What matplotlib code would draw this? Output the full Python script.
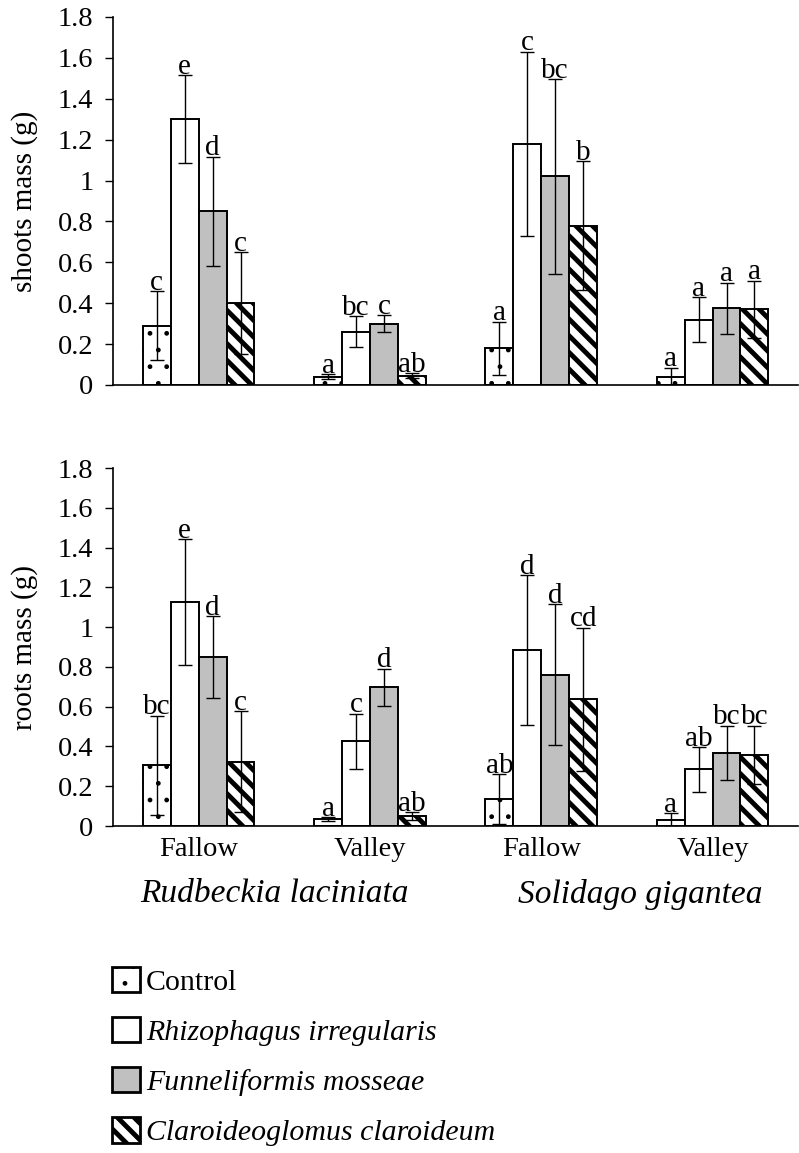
import numpy as np
import matplotlib as mpl
import matplotlib.pyplot as plt

plt.rcParams['font.family'] = ['Liberation Serif', 'DejaVu Serif']
plt.rcParams['hatch.color'] = 'black'

# sites and species
sites = ['Fallow', 'Valley', 'Fallow', 'Valley']
species = ['Rudbeckia laciniata', 'Solidago gigantea']
treatments = ['Control', 'Rhizophagus irregularis', 'Funneliformis mosseae',
              'Claroideoglomus claroideum']

# shoots mass (g): one list per treatment, order = sites above
shoots_control = [0.29, 0.04, 0.18, 0.04]
shoots_ri = [1.30, 0.26, 1.18, 0.32]
shoots_fm = [0.85, 0.30, 1.02, 0.375]
shoots_cc = [0.40, 0.045, 0.78, 0.37]
shoots_err_control = [0.17, 0.012, 0.13, 0.045]
shoots_err_ri = [0.215, 0.076, 0.45, 0.11]
shoots_err_fm = [0.267, 0.041, 0.477, 0.125]
shoots_err_cc = [0.25, 0.012, 0.316, 0.14]
shoots_letters = [['c', 'a', 'a', 'a'], ['e', 'bc', 'c', 'a'],
                  ['d', 'c', 'bc', 'a'], ['c', 'ab', 'b', 'a']]

# roots mass (g)
roots_control = [0.305, 0.035, 0.136, 0.03]
roots_ri = [1.125, 0.426, 0.884, 0.285]
roots_fm = [0.85, 0.697, 0.76, 0.368]
roots_cc = [0.323, 0.05, 0.638, 0.357]
roots_err_control = [0.25, 0.01, 0.124, 0.034]
roots_err_ri = [0.317, 0.139, 0.377, 0.112]
roots_err_fm = [0.205, 0.093, 0.354, 0.137]
roots_err_cc = [0.255, 0.02, 0.36, 0.147]
roots_letters = [['bc', 'a', 'ab', 'a'], ['e', 'c', 'd', 'ab'],
                 ['d', 'd', 'd', 'bc'], ['c', 'ab', 'cd', 'bc']]

styles = [
    dict(facecolor='white', hatch='.', hlw=1.0),
    dict(facecolor='white', hatch='', hlw=1.0),
    dict(facecolor='#c0c0c0', hatch='', hlw=1.0),
    dict(facecolor='white', hatch='\\\\', hlw=3.5),
]


def set_hlw(patch, lw):
    if hasattr(patch, 'set_hatch_linewidth'):
        patch.set_hatch_linewidth(lw)
    else:
        patch._hatch_linewidth = lw


fig = plt.figure(figsize=(7.99, 11.53), dpi=100)
ax1 = fig.add_axes([0.1414, 0.6661, 0.8576, 0.3192])
ax2 = fig.add_axes([0.1414, 0.2836, 0.8576, 0.3105])

x = np.arange(len(sites))
w = 0.163


def draw(ax, vals, errs, letters, ylabel):
    handles = []
    for i in range(4):
        st = styles[i]
        pos = x + (i - 1.5) * w
        bars = ax.bar(pos, vals[i], w, color=st['facecolor'], edgecolor='black',
                      linewidth=1.4, hatch=st['hatch'], zorder=2)
        for b in bars:
            set_hlw(b, st['hlw'])
        ax.errorbar(pos, vals[i], yerr=errs[i], fmt='none', ecolor='black',
                    elinewidth=1.0, capsize=4.8, capthick=1.0, zorder=3)
        for p, v, e, t in zip(pos, vals[i], errs[i], letters[i]):
            ax.annotate(t, (p, v + e), xytext=(0, 1), textcoords='offset points',
                        ha='center', va='baseline', fontsize=21)
        handles.append(bars)
    ax.set_xlim(-0.5, 3.5)
    ax.set_ylim(0, 1.8)
    ax.set_yticks(np.arange(0, 1.81, 0.2))
    ax.set_yticklabels(['0', '0.2', '0.4', '0.6', '0.8', '1', '1.2', '1.4', '1.6', '1.8'])
    ax.tick_params(axis='y', labelsize=20.5, length=6, width=1.0, direction='out', pad=8)
    ax.tick_params(axis='x', length=0)
    ax.spines['top'].set_visible(False)
    ax.spines['right'].set_visible(False)
    ax.spines['left'].set_linewidth(1.2)
    ax.spines['bottom'].set_linewidth(1.2)
    ax.set_ylabel(ylabel, fontsize=21, labelpad=14)
    return handles


handles = draw(ax1, [shoots_control, shoots_ri, shoots_fm, shoots_cc],
               [shoots_err_control, shoots_err_ri, shoots_err_fm, shoots_err_cc],
               shoots_letters, 'shoots mass (g)')
draw(ax2, [roots_control, roots_ri, roots_fm, roots_cc],
     [roots_err_control, roots_err_ri, roots_err_fm, roots_err_cc],
     roots_letters, 'roots mass (g)')

ax1.set_xticks([])
ax2.set_xticks(x)
ax2.set_xticklabels(sites, fontsize=20.5)
ax2.tick_params(axis='x', pad=8)

ax2.text(0.44, -0.19, species[0], transform=ax2.get_xaxis_transform(),
         ha='center', va='center', fontsize=24, style='italic')
ax2.text(2.58, -0.19, species[1], transform=ax2.get_xaxis_transform(),
         ha='center', va='center', fontsize=24, style='italic')

leg = fig.legend(handles, treatments, loc='upper left',
                 bbox_to_anchor=(0.125, 0.172), frameon=False, fontsize=21.5,
                 handlelength=0.95, handleheight=0.95, handletextpad=0.2,
                 labelspacing=0.7, borderaxespad=0)
for t in leg.get_texts()[1:]:
    t.set_style('italic')
for p, st in zip(leg.get_patches(), styles):
    set_hlw(p, st['hlw'])
    p.set_linewidth(2.0)

fig.savefig('out.png', dpi=100)
